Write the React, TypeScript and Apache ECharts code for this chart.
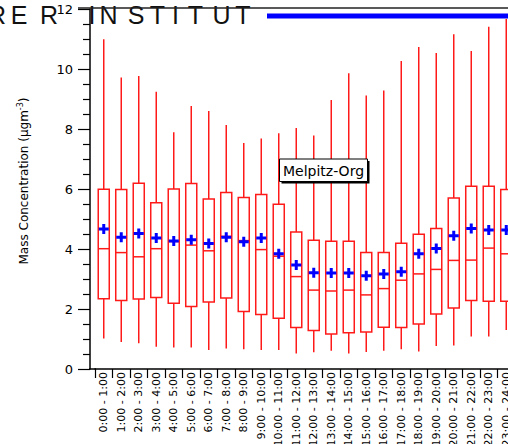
import React, { useEffect, useRef } from "react";
import * as echarts from "echarts";

const hours = [
  "0:00 - 1:00", "1:00 - 2:00", "2:00 - 3:00", "3:00 - 4:00", "4:00 - 5:00", "5:00 - 6:00",
  "6:00 - 7:00", "7:00 - 8:00", "8:00 - 9:00", "9:00 - 10:00", "10:00 - 11:00", "11:00 - 12:00",
  "12:00 - 13:00", "13:00 - 14:00", "14:00 - 15:00", "15:00 - 16:00", "16:00 - 17:00", "17:00 - 18:00",
  "18:00 - 19:00", "19:00 - 20:00", "20:00 - 21:00", "21:00 - 22:00", "22:00 - 23:00", "23:00 - 24:00",
];
const low = [1.02, 0.9, 0.86, 0.74, 0.72, 0.72, 0.63, 0.68, 0.66, 0.63, 0.63, 0.52, 0.56, 0.61, 0.52, 0.57, 0.61, 0.66, 0.58, 0.77, 0.78, 1.08, 1.08, 1.3];
const q1 = [2.34, 2.28, 2.33, 2.38, 2.19, 2.08, 2.23, 2.37, 1.92, 1.82, 1.69, 1.38, 1.28, 1.17, 1.21, 1.23, 1.39, 1.38, 1.5, 1.83, 2.03, 2.28, 2.26, 2.26];
const median = [4.01, 3.88, 3.74, 4.01, 4.25, 4.13, 3.94, 4.42, 4.28, 3.98, 3.76, 3.08, 2.63, 2.6, 2.63, 2.47, 2.68, 2.96, 3.17, 3.32, 3.62, 3.63, 4.03, 3.84];
const q3 = [5.99, 5.98, 6.19, 5.54, 6.0, 6.18, 5.67, 5.88, 5.72, 5.82, 5.49, 4.57, 4.29, 4.26, 4.26, 3.88, 3.88, 4.19, 4.49, 4.68, 5.7, 6.09, 6.09, 5.98];
const high = [10.99, 9.72, 9.77, 9.24, 7.89, 8.77, 8.6, 8.13, 7.53, 7.68, 7.86, 8.03, 7.78, 8.97, 9.86, 9.12, 9.28, 10.27, 10.73, 10.53, 11.16, 10.6, 11.41, 11.67];
const mean = [4.67, 4.39, 4.52, 4.37, 4.27, 4.31, 4.18, 4.39, 4.24, 4.37, 3.84, 3.47, 3.21, 3.2, 3.2, 3.11, 3.17, 3.24, 3.84, 4.02, 4.44, 4.68, 4.63, 4.63];
const yTicks = { min: 0, max: 12, interval: 2 };
const seriesLabel = "Melpitz-Org";
const yName = "Mass Concentration (µgm{sup|-3})";
const bannerLetters = ["R", "E", "R", "I", "N", "S", "T", "I", "T", "U", "T"];
const bannerCenters = [-3, 19, 49, 92, 108.5, 136, 157.5, 175.5, 195.5, 221.5, 243];

const RED = "#ff1a1a";
const FONT = "DejaVu Sans";

export default function App() {
  const ref = useRef<HTMLDivElement>(null);
  useEffect(() => {
    document.body.style.margin = "0";
    const chart = echarts.init(ref.current!, null, { renderer: "svg" });
    const boxData = hours.map((_, i) => [i, low[i], q1[i], median[i], q3[i], high[i]]);
    const option: any = {
      animation: false,
      backgroundColor: "#ffffff",
      grid: { left: 95, top: 9, width: 420, height: 360, containLabel: false, outerBoundsMode: "none" },
      xAxis: {
        type: "category",
        data: hours,
        boundaryGap: true,
        axisLine: { show: true, lineStyle: { color: "#000", width: 1.5 } },
        axisTick: { show: true, length: 9, lineStyle: { color: "#000", width: 1.2 } },
        axisLabel: { rotate: 90, interval: 0, fontSize: 11, fontFamily: FONT, color: "#000", margin: 3 },
        splitLine: { show: false },
      },
      yAxis: {
        type: "value",
        min: yTicks.min,
        max: yTicks.max,
        interval: yTicks.interval,
        offset: 5,
        name: yName,
        nameLocation: "middle",
        nameGap: 58,
        nameRotate: 90,
        nameTextStyle: {
          fontSize: 12,
          fontFamily: FONT,
          color: "#000",
          padding: [0, 0, 0, 16],
          rich: { sup: { fontSize: 8, fontFamily: FONT, color: "#000", verticalAlign: "top", padding: [0, 0, 8, 0] } },
        },
        axisLine: { show: true, lineStyle: { color: "#000", width: 1.5 } },
        axisTick: { show: true, length: 12, lineStyle: { color: "#000", width: 1.2 } },
        minorTick: { show: true, splitNumber: 4, length: 7, lineStyle: { color: "#000", width: 1.2 } },
        axisLabel: { fontSize: 13, fontFamily: FONT, color: "#000", margin: 17 },
        splitLine: { show: false },
      },
      series: [
        {
          type: "custom",
          data: boxData,
          z: 2,
          renderItem: (params: any, api: any) => {
            const x = api.value(0);
            const pLow = api.coord([x, api.value(1)]);
            const pQ1 = api.coord([x, api.value(2)]);
            const pMed = api.coord([x, api.value(3)]);
            const pQ3 = api.coord([x, api.value(4)]);
            const pHigh = api.coord([x, api.value(5)]);
            const bw = api.size([1, 0])[0] * 0.63;
            const cx = pQ1[0];
            const st = { stroke: RED, lineWidth: 1.5, fill: null };
            return {
              type: "group",
              children: [
                { type: "line", shape: { x1: cx, y1: pLow[1], x2: cx, y2: pQ1[1] }, style: st },
                { type: "line", shape: { x1: cx, y1: pQ3[1], x2: cx, y2: pHigh[1] }, style: st },
                { type: "rect", shape: { x: cx - bw / 2, y: pQ3[1], width: bw, height: pQ1[1] - pQ3[1] }, style: { stroke: RED, lineWidth: 1.5, fill: "#fff" } },
                { type: "line", shape: { x1: cx - bw / 2, y1: pMed[1], x2: cx + bw / 2, y2: pMed[1] }, style: st },
              ],
            };
          },
        },
        {
          type: "scatter",
          data: mean,
          z: 5,
          symbol: "path://M3.5,0H6.5V3.5H10V6.5H6.5V10H3.5V6.5H0V3.5H3.5Z",
          symbolSize: 10,
          itemStyle: { color: "#0000ff", opacity: 1 },
        },
      ],
      graphic: [
        ...bannerLetters.map((ch, i) => ({
          type: "text",
          x: bannerCenters[i],
          y: 15,
          z: 1,
          style: { text: ch, fontSize: 25, fontFamily: "Liberation Sans", fill: "#111", verticalAlign: "middle", align: "center" },
        })),
        { type: "line", shape: { x1: 78, y1: 8, x2: 508, y2: 8 }, style: { stroke: "#222", lineWidth: 1.5 }, z: 2 },
        { type: "rect", shape: { x: 267, y: 13.5, width: 245, height: 5 }, style: { fill: "#0000ff" }, z: 2 },
        { type: "line", shape: { x1: 89, y1: 369, x2: 96, y2: 369 }, style: { stroke: "#000", lineWidth: 1.5 }, z: 2 },
        { type: "rect", shape: { x: 281.5, y: 161, width: 88, height: 22.5 }, style: { fill: "#000" }, z: 10 },
        { type: "rect", shape: { x: 279.5, y: 159, width: 88, height: 22.5 }, style: { fill: "#fff", stroke: "#000", lineWidth: 1 }, z: 11 },
        {
          type: "text",
          x: 323.5,
          y: 170.5,
          z: 12,
          style: { text: seriesLabel, fontSize: 14, fontFamily: FONT, fill: "#000", align: "center", verticalAlign: "middle" },
        },
      ],
    };
    chart.setOption(option);
    return () => chart.dispose();
  }, []);
  return <div ref={ref} style={{ width: 508, height: 444 }} />;
}
